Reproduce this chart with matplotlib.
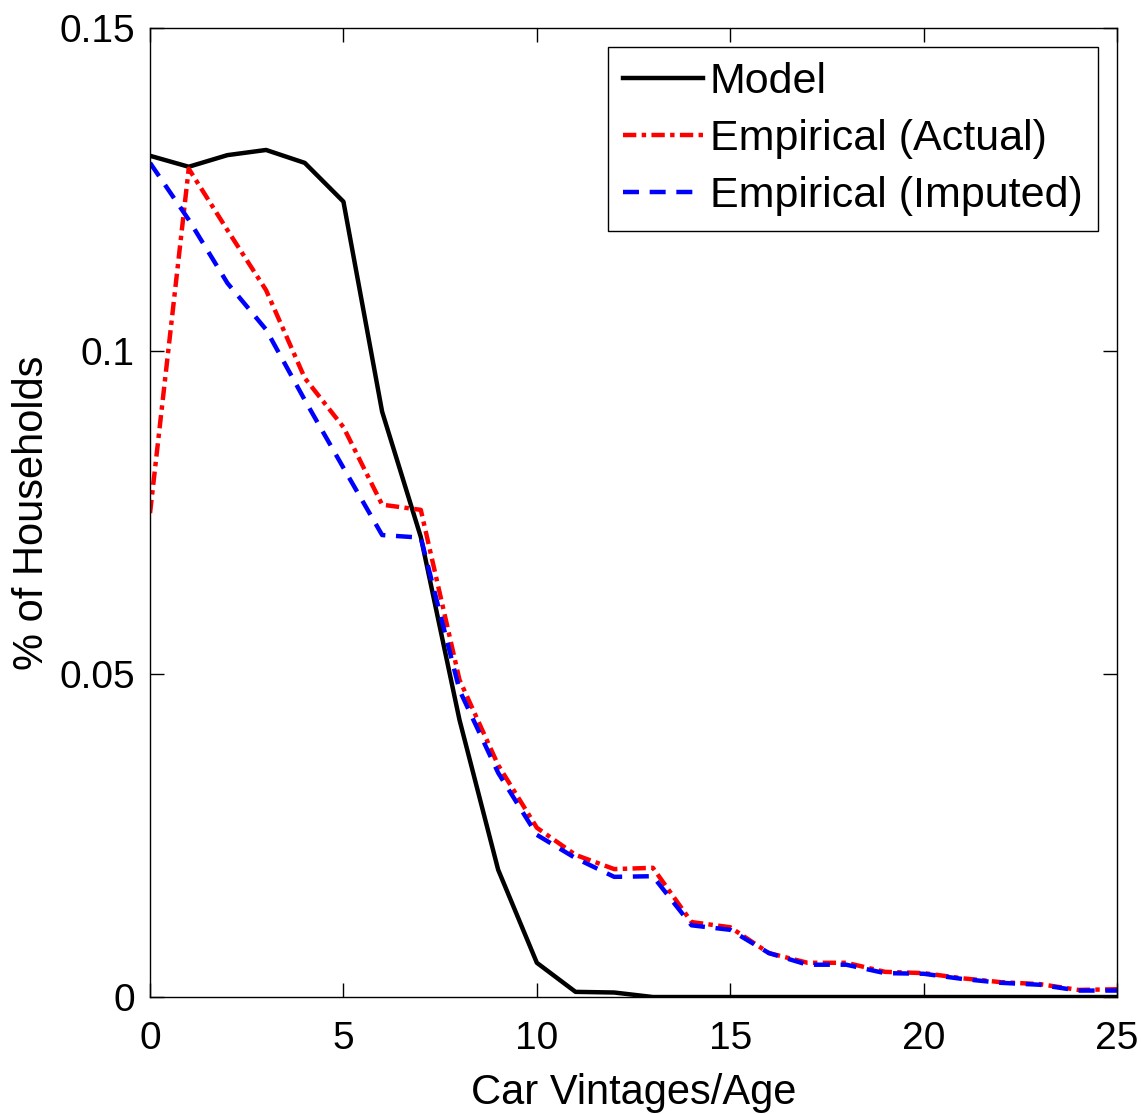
import numpy as np
import matplotlib.pyplot as plt

plt.rcParams['font.family'] = ['Liberation Sans', 'DejaVu Sans']

age = np.arange(0, 26)
model = [0.1302, 0.1285, 0.1303, 0.1311, 0.1291, 0.1231, 0.0906, 0.0712, 0.0429,
         0.0197, 0.0053, 0.0008, 0.0007, 0.0, 0.0, 0.0, 0.0, 0.0, 0.0, 0.0,
         0.0, 0.0, 0.0, 0.0, 0.0, 0.0]
actual = [0.0749, 0.1282, 0.1187, 0.1094, 0.0958, 0.0882, 0.0762, 0.0754, 0.0491,
          0.0359, 0.0262, 0.0220, 0.0198, 0.0200, 0.0116, 0.0108, 0.0068, 0.0053,
          0.0053, 0.0039, 0.0037, 0.0029, 0.0023, 0.0020, 0.0011, 0.0012]
imputed = [0.1291, 0.1203, 0.1105, 0.1033, 0.0924, 0.0819, 0.0715, 0.0711, 0.0475,
           0.0347, 0.0251, 0.0215, 0.0186, 0.0187, 0.0111, 0.0104, 0.0068, 0.0050,
           0.0050, 0.0037, 0.0036, 0.0028, 0.0022, 0.0019, 0.0010, 0.0010]

fig = plt.figure(figsize=(11.41, 11.14), dpi=100)
ax = fig.add_axes([0.1315, 0.105, 0.8475, 0.870])

ax.plot(age, model, color='black', lw=3.2, label='Model')
ax.plot(age, actual, color='red', lw=3.2, ls=(0, (3, 1.2, 1, 1.2)), label='Empirical (Actual)')
ax.plot(age, imputed, color='blue', lw=3.2, ls=(0, (3.6, 2.4)), label='Empirical (Imputed)')

ax.set_xlim(0, 25)
ax.set_ylim(0, 0.15)
ax.set_xticks([0, 5, 10, 15, 20, 25])
ax.set_yticks([0, 0.05, 0.1, 0.15])
ax.set_yticklabels(['0', '0.05', '0.1', '0.15'])
ax.tick_params(direction='in', length=10, width=1, labelsize=28, top=True, right=True)
ax.tick_params(axis='x', pad=17)
ax.tick_params(axis='y', pad=11)
for s in ax.spines.values():
    s.set_linewidth(1)
ax.set_xlabel('Car Vintages/Age', fontsize=30, labelpad=12)
ax.set_ylabel('% of Households', fontsize=30, labelpad=5)

leg = ax.legend(loc='upper right', fontsize=31, handlelength=1.85, fancybox=False,
                edgecolor='black', framealpha=1, borderaxespad=0.45,
                handletextpad=0.16, labelspacing=0.39, borderpad=0.35)
leg.get_frame().set_linewidth(1)

fig.savefig('out.png', dpi=100)
